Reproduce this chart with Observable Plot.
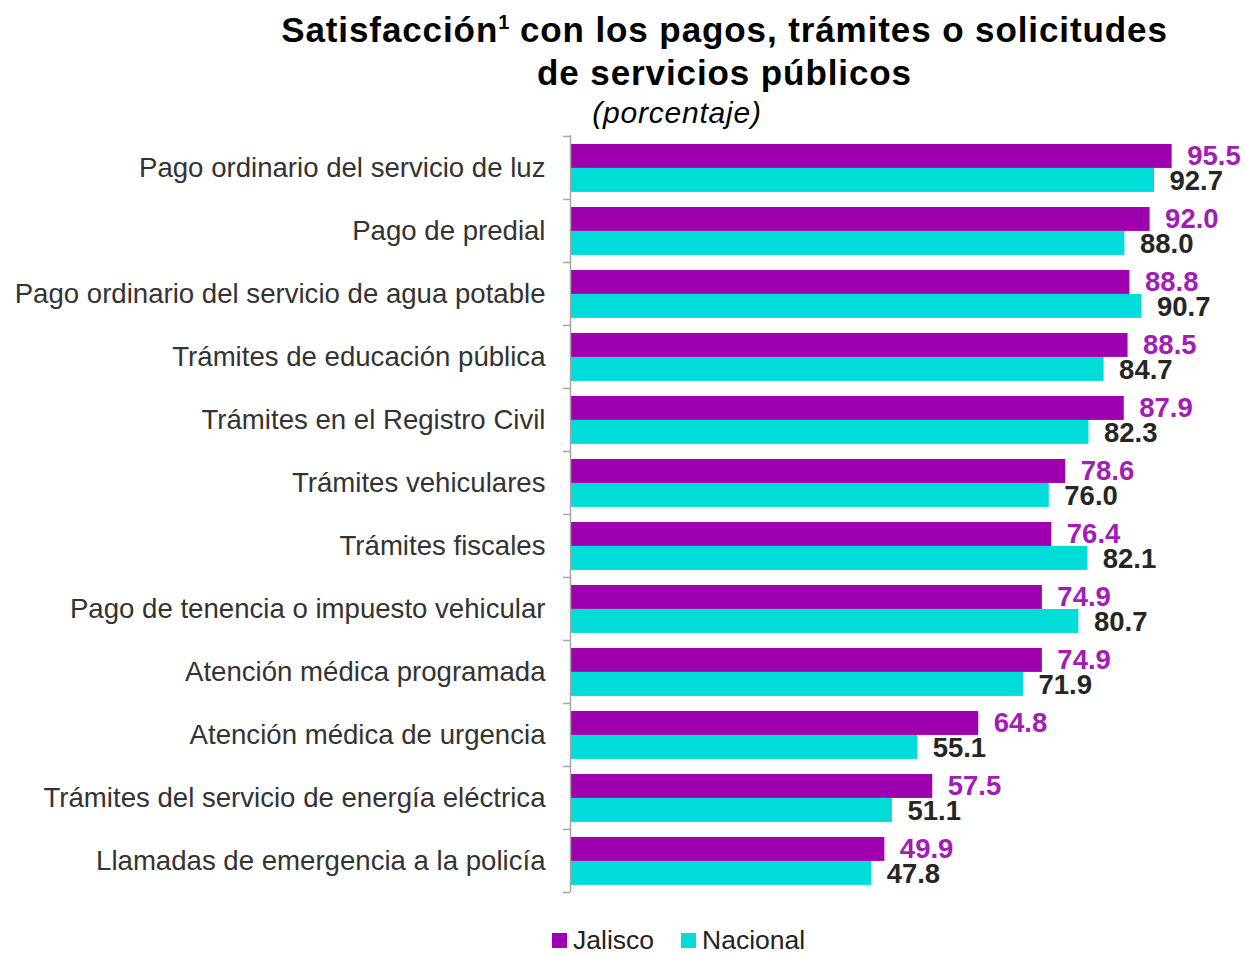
<!DOCTYPE html>
<html>
<head>
<meta charset="utf-8">
<script src="https://cdn.jsdelivr.net/npm/d3@7"></script>
<script src="https://cdn.jsdelivr.net/npm/@observablehq/plot@0.6"></script>
<style>
  body { margin: 0; background: #fff; font-family: "Liberation Sans", Arial, sans-serif; overflow: hidden; }
  #wrap { position: relative; width: 1245px; height: 955px; }
  .title { position: absolute; left: 0; width: 1245px; text-align: center; font-weight: bold; font-size: 35px; line-height: 40px; letter-spacing: 0.9px; color: #000; }
  .title sup { font-size: 20px; vertical-align: 0; position: relative; top: -13px; letter-spacing: 0; }
  .sub { position: absolute; width: 400px; text-align: center; font-style: italic; font-size: 30px; line-height: 34px; letter-spacing: 0.8px; color: #000; }
  .legend { position: absolute; top: 929px; left: 552px; font-size: 26.5px; line-height: 22px; color: #222; display: flex; align-items: center; }
  .legend span.sw { display: inline-block; width: 15px; height: 15px; margin-right: 6px; }
  #chart { position: absolute; left: 0; top: 0; }
</style>
</head>
<body>
<div id="wrap">
  <div class="title" style="top:10px; left:102px;">Satisfacción<sup>1</sup> con los pagos, trámites o solicitudes</div>
  <div class="title" style="top:53px; left:102px;">de servicios públicos</div>
  <div class="sub" style="top:96px; left:477px;">(porcentaje)</div>
  <div id="chart"></div>
  <div class="legend">
    <span class="sw" style="background:#9E00B0"></span><span>Jalisco</span>
    <span class="sw" style="background:#00DDD8; margin-left:27px"></span><span>Nacional</span>
  </div>
</div>
<script>
const categories = [
  "Pago ordinario del servicio de luz",
  "Pago de predial",
  "Pago ordinario del servicio de agua potable",
  "Trámites de educación pública",
  "Trámites en el Registro Civil",
  "Trámites vehiculares",
  "Trámites fiscales",
  "Pago de tenencia o impuesto vehicular",
  "Atención médica programada",
  "Atención médica de urgencia",
  "Trámites del servicio de energía eléctrica",
  "Llamadas de emergencia a la policía"
];
const jalisco = [95.5, 92.0, 88.8, 88.5, 87.9, 78.6, 76.4, 74.9, 74.9, 64.8, 57.5, 49.9];
const nacional = [92.7, 88.0, 90.7, 84.7, 82.3, 76.0, 82.1, 80.7, 71.9, 55.1, 51.1, 47.8];

const jal = categories.map((c, i) => ({category: c, value: jalisco[i]}));
const nac = categories.map((c, i) => ({category: c, value: nacional[i]}));

const W = 1245, H = 955, mt = 135, mb = 63;
const bw = (H - mt - mb) / categories.length;

const chart = Plot.plot({
  width: W,
  height: H,
  marginTop: mt,
  marginBottom: mb,
  marginLeft: 570,
  marginRight: 45,
  style: {fontFamily: "Liberation Sans, Arial, sans-serif", background: "transparent"},
  x: {domain: [0, 100], axis: null},
  y: {domain: categories, padding: 0, label: null},
  marks: [
    Plot.barX(jal, {x: "value", y: "category", fill: "#9E00B0", insetTop: 8, insetBottom: bw - 32}),
    Plot.barX(nac, {x: "value", y: "category", fill: "#00DDD8", insetTop: 32, insetBottom: bw - 56}),
    Plot.ruleX([0], {stroke: "#a6a6a6", strokeWidth: 1.5}),
    Plot.axisY({tickSize: 7, text: null, stroke: "#a6a6a6", strokeWidth: 1.5, dy: -bw / 2}),
    Plot.axisY([categories[categories.length - 1]], {tickSize: 7, text: null, stroke: "#a6a6a6", strokeWidth: 1.5, dy: bw / 2}),
    Plot.axisY({tickSize: 0, tickPadding: 25, fontSize: 27.6, fill: "#333", label: null}),
    Plot.text(jal, {x: "value", y: "category", text: d => d.value.toFixed(1), textAnchor: "start", dx: 15, dy: -12, fill: "#A21CB6", fontWeight: "bold", fontSize: 27.5}),
    Plot.text(nac, {x: "value", y: "category", text: d => d.value.toFixed(1), textAnchor: "start", dx: 15, dy: 13, fill: "#262626", fontWeight: "bold", fontSize: 27.5})
  ]
});
document.getElementById("chart").appendChild(chart);
</script>
</body>
</html>
